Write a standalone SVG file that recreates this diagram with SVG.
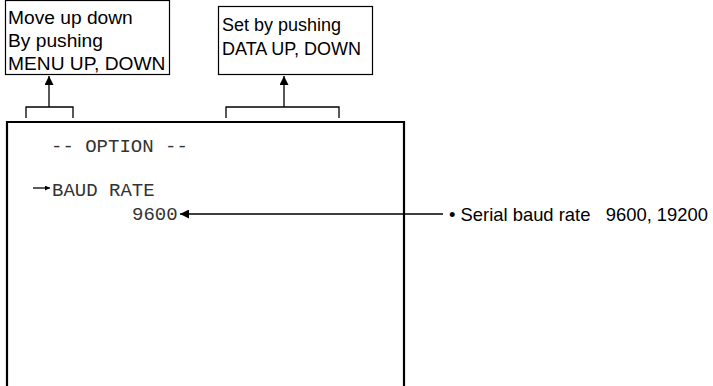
<svg xmlns="http://www.w3.org/2000/svg" width="713" height="386" viewBox="0 0 713 386">
<style>
.box{fill:#fff;stroke:#000;stroke-width:1.2}
.lbl{font-family:"Liberation Sans",Arial,sans-serif;font-size:18px;fill:#000}
.big{font-size:19.2px}
.note{font-size:18.4px}
.mono{font-family:"Liberation Mono","Courier New",monospace;font-size:19px;fill:#333}
.ln{fill:none;stroke:#000;stroke-width:1.3}
</style>
<defs>
<marker id="ah" viewBox="0 0 10 10" refX="10" refY="5" markerWidth="10" markerHeight="9" markerUnits="userSpaceOnUse" orient="auto"><path d="M0,0 L10,5 L0,10 Z" fill="#000"/></marker>
<marker id="ahs" viewBox="0 0 10 10" refX="10" refY="5" markerWidth="6" markerHeight="5" markerUnits="userSpaceOnUse" orient="auto"><path d="M0,0 L10,5 L0,10 Z" fill="#000"/></marker>
</defs>
<rect width="713" height="386" fill="#fff"/>
<g id="menu-note">
<rect class="box" x="5.5" y="0.5" width="164" height="74"/>
<text class="lbl big" x="8" y="24">Move up down</text>
<text class="lbl big" x="8" y="47">By pushing</text>
<text class="lbl big" x="8" y="70">MENU UP, DOWN</text>
</g>
<g id="data-note">
<rect class="box" x="218.5" y="6.5" width="154" height="68"/>
<text class="lbl" x="222" y="31">Set by pushing</text>
<text class="lbl" x="222" y="55">DATA UP, DOWN</text>
</g>
<g id="screen">
<path d="M7,400 V122 H404 V400" fill="none" stroke="#000" stroke-width="2.2"/>
<text class="mono" x="51" y="152">-- OPTION --</text>
<text class="mono" x="52" y="196">BAUD RATE</text>
<text class="mono" x="132" y="220">9600</text>
</g>
<g id="baud-note">
<text class="lbl note" x="449" y="221" xml:space="preserve">• Serial baud rate   9600, 19200</text>
</g>
<g id="connectors">
<path class="ln" d="M26,118 V107 H73 V118 M49,107 V76" marker-end="url(#ah)"/>
<path class="ln" d="M226,118 V107 H339 V118 M284,107 V76" marker-end="url(#ah)"/>
<path class="ln" d="M443,214 H180" marker-end="url(#ah)"/>
<path class="ln" d="M33,188 H50" marker-end="url(#ahs)"/>
</g>
</svg>
